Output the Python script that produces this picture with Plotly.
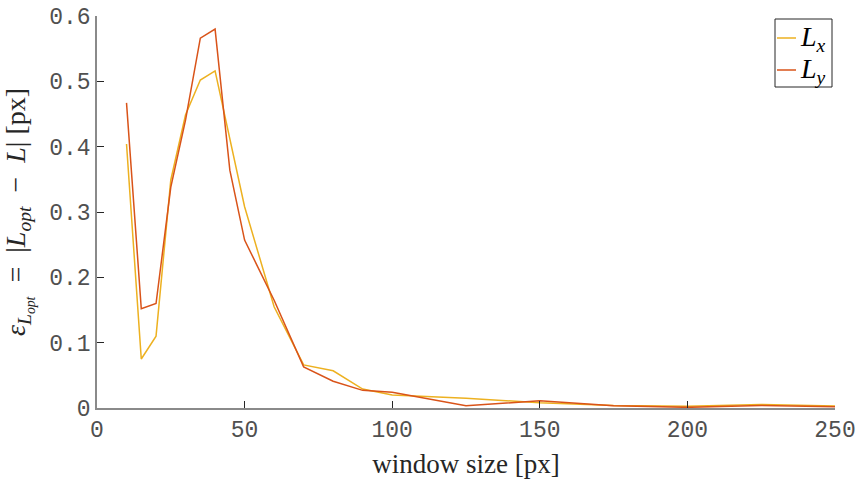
import plotly.graph_objects as go

# window sizes [px]
window_size = [10, 15, 20, 25, 30, 35, 40, 45, 50, 60, 70, 80, 90, 100, 125, 150, 175, 200, 225, 250]

# absolute error of the optimal length estimate [px]
err_Lx = [0.404, 0.075, 0.110, 0.349, 0.449, 0.502, 0.516, 0.410, 0.308, 0.155, 0.066, 0.057,
          0.029, 0.020, 0.015, 0.008, 0.004, 0.0025, 0.0055, 0.003]
err_Ly = [0.467, 0.152, 0.160, 0.338, 0.441, 0.566, 0.580, 0.364, 0.257, 0.165, 0.063, 0.041,
          0.027, 0.024, 0.0035, 0.011, 0.0035, 0.001, 0.004, 0.002]

x_ticks = [0, 50, 100, 150, 200, 250]
y_ticks = [0, 0.1, 0.2, 0.3, 0.4, 0.5, 0.6]

series_names = ["<i>L<sub>x</sub></i>", "<i>L<sub>y</sub></i>"]
series_colors = ["#EDB120", "#D95319"]

SERIF = "Liberation Serif"
MONO = "Liberation Mono"
AX_LINE = "#8a8a8a"
TXT = "#262626"
TICK_TXT = "#505050"

W, H = 859, 479
M_L, M_R, M_T, M_B = 97, 24, 16, 71
PW, PH = W - M_L - M_R, H - M_T - M_B


def px_to_paper(px, py):
    """Convert page pixel coordinates to paper fractions of the plot area."""
    return (px - M_L) / PW, (H - M_B - py) / PH


fig = go.Figure()
for name, ys, col in zip(series_names, [err_Lx, err_Ly], series_colors):
    fig.add_trace(go.Scatter(x=window_size, y=ys, mode="lines", name=name,
                             line=dict(color=col, width=1.5), showlegend=False))

axis_common = dict(
    showgrid=False, zeroline=False, showline=True, linecolor=AX_LINE, linewidth=1.5,
    ticks="inside", ticklen=7, tickwidth=1, tickcolor=TXT, automargin=False,
    tickfont=dict(family=MONO, size=23, color=TICK_TXT),
)

NB = "\u00a0"
y_title = (f"<i>ε</i><sub><i>L</i><sub><i>opt</i></sub></sub>{NB}{NB}={NB}{NB}|<i>L</i><sub><i>opt</i></sub>"
           f"{NB}{NB}−{NB}{NB}<i>L</i>|{NB}[px]")

# legend box in the upper-right corner
bx0, by0 = px_to_paper(775, 19)
bx1, by1 = px_to_paper(832, 87)
shapes = [dict(type="rect", xref="paper", yref="paper", x0=bx0, y0=by1, x1=bx1, y1=by0,
               line=dict(color=TXT, width=1), fillcolor="white", layer="above")]
annotations = []
for i, (name, col) in enumerate(zip(series_names, series_colors)):
    row_y = 38 + i * 32
    lx0, ly = px_to_paper(777, row_y)
    lx1, _ = px_to_paper(796, row_y)
    shapes.append(dict(type="line", xref="paper", yref="paper", x0=lx0, x1=lx1, y0=ly, y1=ly,
                       line=dict(color=col, width=1.5), layer="above"))
    tx, ty = px_to_paper(798, row_y)
    annotations.append(dict(text=name, xref="paper", yref="paper", x=tx, y=ty,
                            xanchor="left", yanchor="middle", showarrow=False,
                            font=dict(family=SERIF, size=28, color="black")))

fig.update_layout(
    width=W, height=H,
    margin=dict(l=M_L, r=M_R, t=M_T, b=M_B, autoexpand=False),
    plot_bgcolor="white", paper_bgcolor="white",
    xaxis=dict(range=[0, 250], tickvals=x_ticks, ticktext=[str(v) for v in x_ticks],
               title=dict(text="window size [px]", font=dict(family=SERIF, size=27, color=TXT)),
               **axis_common),
    yaxis=dict(range=[0, 0.6], tickvals=y_ticks, ticktext=["0"] + [f"{v:.1f}" for v in y_ticks[1:]],
               title=dict(text=y_title, font=dict(family=SERIF, size=28, color=TXT)),
               **axis_common),
    shapes=shapes,
    annotations=annotations,
    showlegend=False,
)

fig.write_html("out.html")
